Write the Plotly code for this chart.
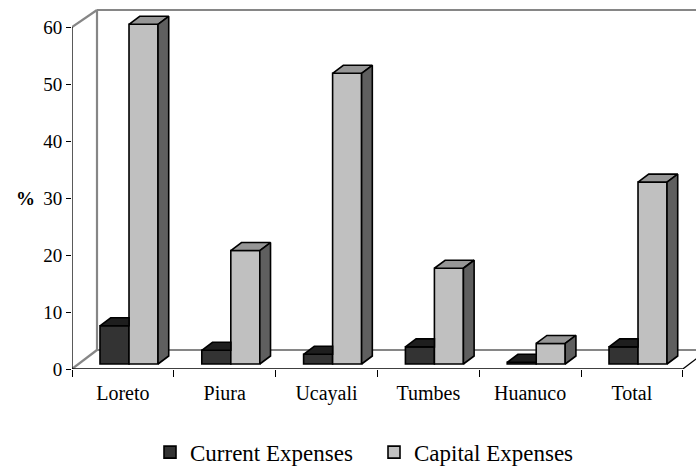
import plotly.graph_objects as go

# ---- data ----
categories = ["Loreto", "Piura", "Ucayali", "Tumbes", "Huanuco", "Total"]
current_expenses = [6.7, 2.4, 1.7, 3.0, 0.3, 3.0]
capital_expenses = [59.6, 19.9, 51.0, 16.8, 3.6, 31.9]
y_ticks = [0, 10, 20, 30, 40, 50, 60]

# ---- geometry (axis units) ----
FONT = "Liberation Serif"
PX_X = 101.8            # px per category
PX_Y = 5.7              # px per unit
BASE = 5 / PX_Y         # bar plane lift (pseudo-3D depth position)
W = 0.285               # bar width
OFF_CUR = -0.225
OFF_CAP = OFF_CUR + W
BDX = 10.7 / PX_X       # bar depth in x
BDY = 8 / PX_Y          # bar depth in y
FDX = 25 / PX_X         # floor depth in x
FDY = 19 / PX_Y         # floor depth in y
XMAX = -0.5 + 624 / PX_X
YMAX = 363 / PX_Y
WALL_TOP = 60 + 17 / PX_Y

xs = list(range(len(categories)))

fig = go.Figure()

fig.add_trace(go.Bar(
    x=xs, y=current_expenses, base=[BASE] * len(xs), name="Current Expenses",
    offset=OFF_CUR, width=W, marker=dict(color="#333333", line=dict(color="black", width=1.6)),
))
fig.add_trace(go.Bar(
    x=xs, y=capital_expenses, base=[BASE] * len(xs), name="Capital Expenses",
    offset=OFF_CAP, width=W, marker=dict(color="#c0c0c0", line=dict(color="black", width=1.6)),
))

# 3D faces derived from the data
cur_top_x, cur_top_y = [], []
cap_top_x, cap_top_y = [], []
cap_side_x, cap_side_y = [], []
for i, (c, k) in enumerate(zip(current_expenses, capital_expenses)):
    x0 = i + OFF_CUR
    x1 = x0 + W
    t = BASE + c
    cur_top_x += [x0, x1, x1, x0 + BDX, x0, None]
    cur_top_y += [t, t, t + BDY, t + BDY, t, None]
    a0 = i + OFF_CAP
    a1 = a0 + W
    t = BASE + k
    cap_top_x += [a0, a1, a1 + BDX, a0 + BDX, a0, None]
    cap_top_y += [t, t, t + BDY, t + BDY, t, None]
    cap_side_x += [a1, a1, a1 + BDX, a1 + BDX, a1, None]
    cap_side_y += [BASE, t, t + BDY, BASE + BDY, BASE, None]

for fx, fy, col in [(cur_top_x, cur_top_y, "#1e1e1e"),
                    (cap_top_x, cap_top_y, "#969696"),
                    (cap_side_x, cap_side_y, "#5f5f5f")]:
    fig.add_trace(go.Scatter(
        x=fx, y=fy, mode="lines", fill="toself", fillcolor=col,
        line=dict(color="black", width=1.6), showlegend=False, hoverinfo="skip",
    ))

GRAY = "#868686"
shapes = [
    # back wall & floor (gray)
    dict(type="line", x0=-0.5 + FDX, x1=-0.5 + FDX, y0=FDY, y1=WALL_TOP, line=dict(color=GRAY, width=2.2), layer="below"),
    dict(type="line", x0=-0.5 + FDX, x1=XMAX + 1, y0=WALL_TOP, y1=WALL_TOP, line=dict(color=GRAY, width=2.2), layer="below"),
    dict(type="line", x0=-0.5, x1=-0.5 + FDX, y0=60, y1=WALL_TOP, line=dict(color=GRAY, width=2.2), layer="below"),
    dict(type="line", x0=-0.5 + FDX, x1=XMAX + 1, y0=FDY, y1=FDY, line=dict(color=GRAY, width=2.2), layer="below"),
    dict(type="line", x0=-0.5, x1=-0.5 + FDX, y0=0, y1=FDY, line=dict(color=GRAY, width=2.2), layer="below"),
    # front edges (black)
    dict(type="line", x0=-0.5, x1=-0.5, y0=0, y1=60, line=dict(color="black", width=1.3)),
    dict(type="line", x0=-0.5, x1=5.5, y0=0, y1=0, line=dict(color="black", width=1.3)),
    dict(type="line", x0=5.5, x1=5.5 + FDX, y0=0, y1=FDY, line=dict(color="black", width=1.3)),
]
for s in shapes:
    s.update(xref="x", yref="y")

fig.update_layout(
    width=696, height=471,
    margin=dict(l=72, r=0, t=6, b=102, pad=0, autoexpand=False),
    paper_bgcolor="white", plot_bgcolor="white",
    barmode="overlay",
    shapes=shapes,
    font=dict(family=FONT, color="black"),
    xaxis=dict(
        range=[-0.5, XMAX], tickmode="array", tickvals=xs, ticktext=categories,
        ticks="", showline=False, showgrid=False, zeroline=False, automargin=False,
        tickfont=dict(family=FONT, size=20, color="black"),
        ticklabelstandoff=10,
        minor=dict(tickmode="array", tickvals=[i - 0.5 for i in range(len(xs) + 1)],
                   ticks="outside", ticklen=7, tickcolor="black", tickwidth=1.3, showgrid=False),
    ),
    yaxis=dict(
        range=[0, YMAX], tickmode="array", tickvals=y_ticks,
        ticks="outside", ticklen=5, tickcolor="black", tickwidth=1.3,
        showline=False, showgrid=False, zeroline=False, automargin=False,
        tickfont=dict(family=FONT, size=19, color="black"),
    ),
    legend=dict(
        orientation="h", x=0.125, xanchor="left", y=-0.17, yanchor="top",
        entrywidth=179, entrywidthmode="pixels",
        font=dict(family=FONT, size=23, color="black"), bgcolor="rgba(0,0,0,0)",
    ),
    annotations=[dict(
        text="<b>%</b>", xref="paper", yref="y", x=-0.093, y=30, showarrow=False,
        font=dict(family=FONT, size=19, color="black"),
    )],
)

fig.write_html("out.html")
